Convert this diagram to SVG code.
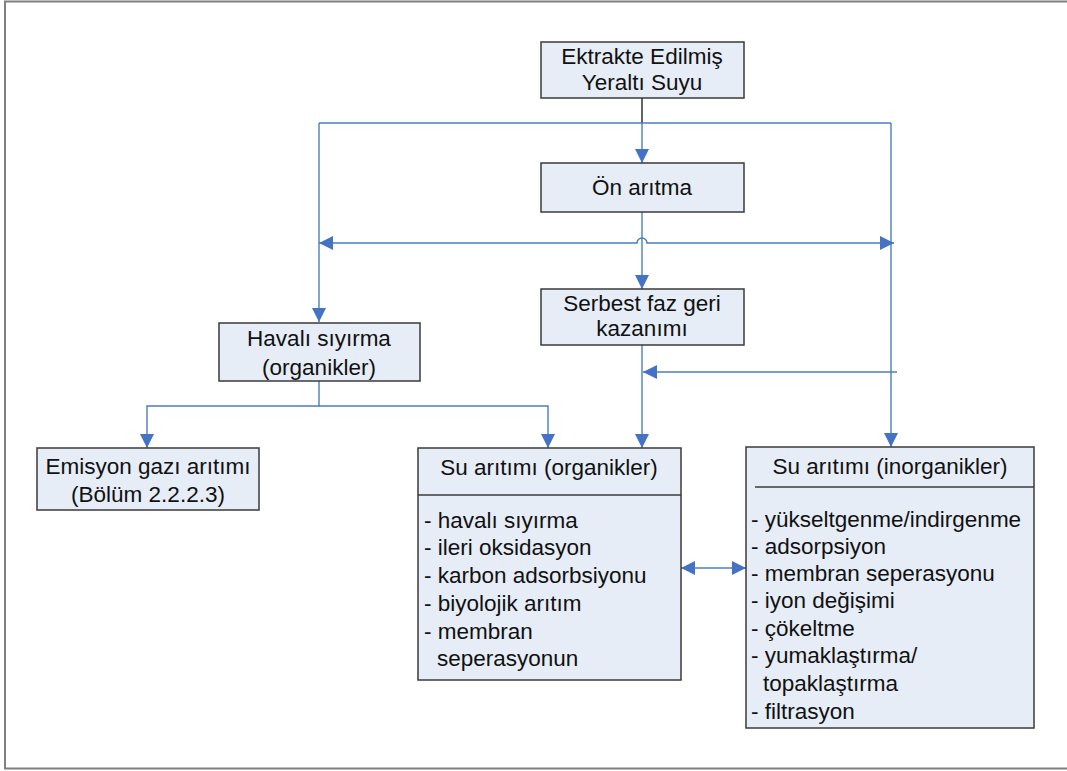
<svg xmlns="http://www.w3.org/2000/svg" width="1067" height="771" viewBox="0 0 1067 771">
<style>
.box{fill:#e6edf7;stroke:#3a3a3a;stroke-width:1.5}
.t{font-family:"Liberation Sans",Arial,sans-serif;font-size:22.5px;fill:#111}
.c{text-anchor:middle}
.ln{fill:none;stroke:#4a7ebb;stroke-width:1.4}
.dv{stroke:#3a3a3a;stroke-width:1.5}
</style>
<defs>
<marker id="ah" viewBox="0 0 14 14" refX="14" refY="7" markerWidth="14" markerHeight="14" markerUnits="userSpaceOnUse" orient="auto-start-reverse">
<path d="M0,0 L14,7 L0,14 z" fill="#4472c4"/>
</marker>
</defs>
<rect width="1067" height="771" fill="#fff"/>
<rect x="5" y="1.5" width="1080" height="767" fill="none" stroke="#808080" stroke-width="2"/>

<g id="connectors">
<path d="M642,98 V123" fill="none" stroke="#111" stroke-width="1.3"/>
<path class="ln" d="M642,123 V163" marker-end="url(#ah)"/>
<path class="ln" d="M319,123 H891"/>
<path class="ln" d="M319,123 V322" marker-end="url(#ah)"/>
<path class="ln" d="M891,123 V447" marker-end="url(#ah)"/>
<path class="ln" d="M642,212 V289" marker-end="url(#ah)"/>
<path class="ln" d="M319,243 H637 A5,5 0 0 1 647,243 H894" marker-start="url(#ah)" marker-end="url(#ah)"/>
<path class="ln" d="M642,345 V448" marker-end="url(#ah)"/>
<path class="ln" d="M897,372 H643" marker-end="url(#ah)"/>
<path class="ln" d="M319,381 V406 H147 V448" marker-end="url(#ah)"/>
<path class="ln" d="M319,406 H548 V448" marker-end="url(#ah)"/>
<path class="ln" d="M681,568 H746" marker-start="url(#ah)" marker-end="url(#ah)"/>
</g>

<g id="ektrakte">
<rect class="box" x="541" y="42" width="203" height="56"/>
<text class="t c" x="642" y="64">Ektrakte Edilmiş</text>
<text class="t c" x="642" y="90">Yeraltı Suyu</text>
</g>

<g id="on-aritma">
<rect class="box" x="541" y="163" width="203" height="49"/>
<text class="t c" x="642" y="195">Ön arıtma</text>
</g>

<g id="serbest-faz">
<rect class="box" x="541" y="289" width="203" height="56"/>
<text class="t c" x="642" y="311">Serbest faz geri</text>
<text class="t c" x="642" y="336">kazanımı</text>
</g>

<g id="havali-siyirma">
<rect class="box" x="219" y="323" width="201" height="58"/>
<text class="t c" x="319" y="346">Havalı sıyırma</text>
<text class="t c" x="319" y="375">(organikler)</text>
</g>

<g id="emisyon">
<rect class="box" x="37" y="448" width="222" height="62"/>
<text class="t c" x="148" y="474">Emisyon gazı arıtımı</text>
<text class="t c" x="148" y="502">(Bölüm 2.2.2.3)</text>
</g>

<g id="su-aritimi-organik">
<rect class="box" x="418" y="448" width="263" height="232"/>
<line class="dv" x1="418" y1="495" x2="681" y2="495"/>
<text class="t c" x="549" y="475">Su arıtımı (organikler)</text>
<text class="t" x="424" y="528">- havalı sıyırma</text>
<text class="t" x="424" y="555">- ileri oksidasyon</text>
<text class="t" x="424" y="583">- karbon adsorbsiyonu</text>
<text class="t" x="424" y="611">- biyolojik arıtım</text>
<text class="t" x="424" y="639">- membran</text>
<text class="t" x="437" y="666">seperasyonun</text>
</g>

<g id="su-aritimi-inorganik">
<rect class="box" x="746" y="447" width="288" height="281"/>
<line class="dv" x1="755" y1="487" x2="1034" y2="487"/>
<text class="t c" x="890" y="474">Su arıtımı (inorganikler)</text>
<text class="t" x="751" y="527">- yükseltgenme/indirgenme</text>
<text class="t" x="751" y="554">- adsorpsiyon</text>
<text class="t" x="751" y="581">- membran seperasyonu</text>
<text class="t" x="751" y="608">- iyon değişimi</text>
<text class="t" x="751" y="636">- çökeltme</text>
<text class="t" x="751" y="663">- yumaklaştırma/</text>
<text class="t" x="763" y="691">topaklaştırma</text>
<text class="t" x="751" y="719">- filtrasyon</text>
</g>
</svg>
